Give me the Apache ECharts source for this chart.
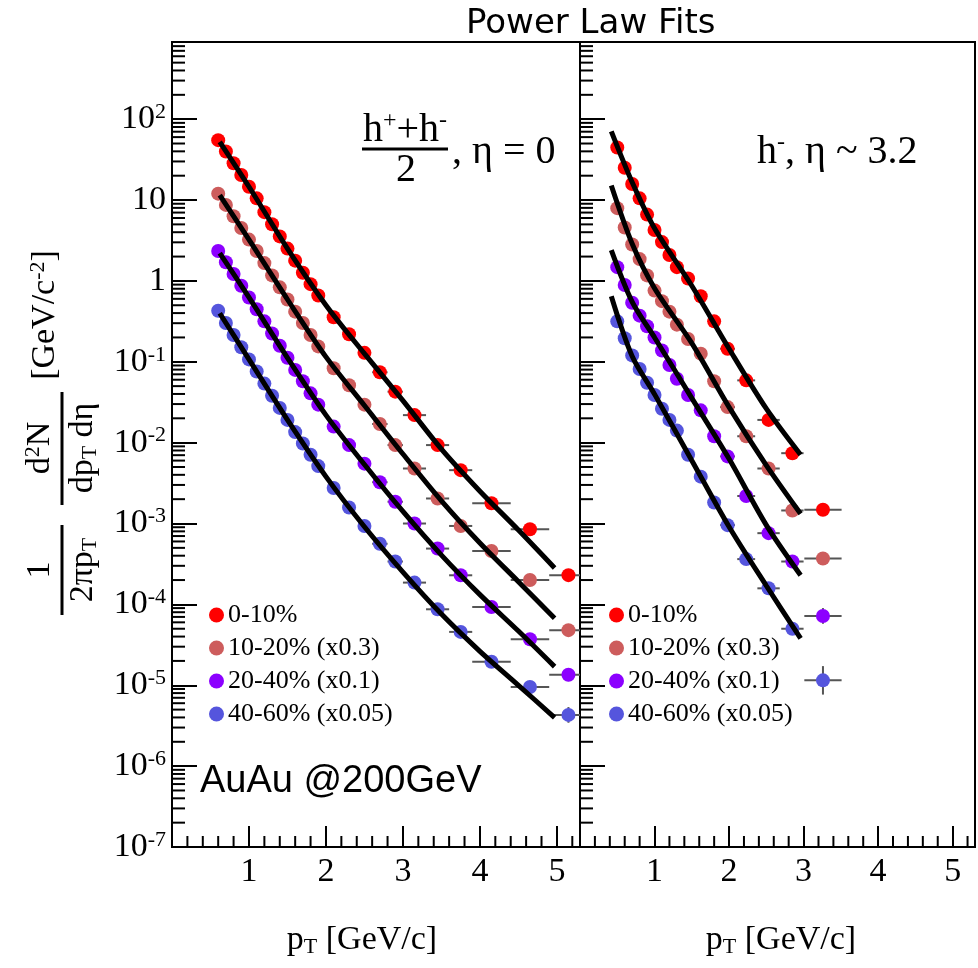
<!DOCTYPE html>
<html>
<head>
<meta charset="utf-8">
<script src="https://cdn.jsdelivr.net/npm/echarts@6/dist/echarts.min.js"></script>
<style>
html,body{margin:0;padding:0;background:#fff;overflow:hidden;}
#chart{width:978px;height:968px;}
</style>
</head>
<body>
<div id="chart"></div>
<script>
// ---------- data ----------
const seriesNames = ['0-10%', '10-20% (x0.3)', '20-40% (x0.1)', '40-60% (x0.05)'];
const seriesColors = ['#ff0000', '#cd5c5c', '#8c00ff', '#5555dd'];

// left panel: (h+ + h-)/2, eta = 0
const ptLeft = [0.6,0.7,0.8,0.9,1.0,1.1,1.2,1.3,1.4,1.5,1.6,1.7,1.8,1.9,2.1,2.3,2.5,2.7,2.9,3.15,3.45,3.75,4.15,4.65,5.15];
const xErrLeft = [0,0,0,0,0,0,0,0,0,0,0,0,0,0,0,0,0.08,0.1,0.1,0.15,0.15,0.15,0.25,0.25,0.25];
const left010 = [55,39.8,28.5,20.4,14.6,10.5,7.08,5.01,3.55,2.51,1.78,1.26,0.912,0.661,0.355,0.219,0.129,0.0741,0.0427,0.0219,0.00933,0.00457,0.00178,8.5e-4,2.3e-4];
const left1020 = [12.0,8.71,6.31,4.52,3.24,2.34,1.66,1.17,0.832,0.589,0.417,0.302,0.214,0.155,0.0832,0.0513,0.0295,0.0170,0.00933,0.00479,0.00204,9.33e-4,4.57e-4,2.0e-4,4.8e-5];
const left2040 = [2.34,1.70,1.22,0.871,0.624,0.447,0.316,0.224,0.158,0.112,0.0794,0.0575,0.0407,0.0295,0.0158,0.00933,0.00550,0.00324,0.00186,0.00100,4.9e-4,2.29e-4,9.3e-5,3.7e-5,1.35e-5];
const left4060 = [0.427,0.302,0.214,0.151,0.107,0.0759,0.0537,0.0380,0.0269,0.0191,0.0135,0.00977,0.00708,0.00513,0.00275,0.00158,9.33e-4,5.62e-4,3.39e-4,1.86e-4,8.7e-5,4.57e-5,1.95e-5,9.5e-6,4.3e-6];
const leftYErrLast = [1.12, 1.15, 1.2, 1.25];

// left panel power-law fit curves
const fitPtLeft = [0.62,1.0,1.5,2.0,2.5,3.0,3.5,4.0,4.5,4.97];
const fitLeft010 = [52.5,14.6,2.51,0.501,0.126,0.0331,0.00832,0.00251,8.3e-4,2.82e-4];
const fitLeft1020 = [11.5,3.24,0.589,0.115,0.0288,0.00724,0.00191,5.75e-4,1.91e-4,6.76e-5];
const fitLeft2040 = [2.21,0.624,0.112,0.0219,0.00537,0.00141,4.07e-4,1.32e-4,4.68e-5,1.70e-5];
const fitLeft4060 = [0.398,0.107,0.0191,0.00380,9.12e-4,2.51e-4,7.59e-5,2.63e-5,1.0e-5,3.98e-6];

// right panel: h-, eta ~ 3.2
const ptRight = [0.5,0.6,0.7,0.8,0.9,1.0,1.1,1.2,1.3,1.45,1.62,1.8,1.98,2.23,2.53,2.85,3.26];
const xErrRight = [0,0,0,0,0,0,0,0,0,0,0,0.05,0.1,0.12,0.15,0.15,0.25];
const right010 = [44.7,25.1,15.8,10.5,6.61,4.27,3.02,2.09,1.48,1.07,0.646,0.316,0.145,0.0589,0.0191,0.00741,0.00148];
const right1020 = [7.94,4.57,2.82,1.86,1.17,0.759,0.562,0.417,0.288,0.191,0.126,0.0575,0.0275,0.0120,0.00479,0.00145,3.7e-4];
const right2040 = [1.48,0.891,0.537,0.372,0.275,0.200,0.138,0.0912,0.0617,0.0389,0.0251,0.0120,0.00676,0.00219,7.6e-4,3.39e-4,7.2e-5];
const right4060 = [0.316,0.195,0.120,0.0813,0.0550,0.0389,0.0263,0.0191,0.0141,0.00708,0.00380,0.00182,9.55e-4,3.63e-4,1.58e-4,5.0e-5,1.15e-5];
const rightYErrLast = [1.15, 1.2, 1.25, 1.5];

const fitPtRight = [0.42,0.7,1.0,1.5,2.0,2.5,2.96];
const fitRight010 = [70.8,16.6,4.47,0.871,0.145,0.0263,0.00708];
const fitRight1020 = [15.1,2.88,0.813,0.170,0.0275,0.00525,0.00132];
const fitRight2040 = [2.40,0.550,0.200,0.0355,0.00631,9.55e-4,2.29e-4];
const fitRight4060 = [0.646,0.117,0.0398,0.00603,9.12e-4,1.70e-4,3.80e-5];

const xTickLabels = ['1','2','3','4','5'];
const yMin = 1e-7, yMax = 900;

// ---------- build ----------
const SERIF = '"Liberation Serif", "Times New Roman", serif';
const panels = [
  {pt: ptLeft, xerr: xErrLeft, vals: [left010,left1020,left2040,left4060], yerrLast: leftYErrLast,
   fitPt: fitPtLeft, fits: [fitLeft010,fitLeft1020,fitLeft2040,fitLeft4060]},
  {pt: ptRight, xerr: xErrRight, vals: [right010,right1020,right2040,right4060], yerrLast: rightYErrLast,
   fitPt: fitPtRight, fits: [fitRight010,fitRight1020,fitRight2040,fitRight4060]}
];

function zip(xs, ys){ return xs.map((x,i)=>[x, ys[i]]); }

const series = [];
panels.forEach((pn, gi) => {
  pn.vals.forEach((vals, si) => {
    // error bars
    series.push({
      type: 'custom', xAxisIndex: gi, yAxisIndex: gi, z: 1, silent: true, clip: true,
      data: vals.map((v,i)=>[pn.pt[i], v, pn.xerr[i], i === vals.length-1 ? pn.yerrLast[si] : 1]),
      renderItem: function(params, api){
        const x = api.value(0), y = api.value(1), xe = api.value(2), yf = api.value(3);
        const ch = [];
        if (xe > 0) {
          const a = api.coord([x - xe, y]), b = api.coord([x + xe, y]);
          ch.push({type:'line', shape:{x1:a[0],y1:a[1],x2:b[0],y2:b[1]}, style:{stroke:'#555',lineWidth:2}});
        }
        if (yf > 1) {
          const a = api.coord([x, y/yf]), b = api.coord([x, y*yf]);
          ch.push({type:'line', shape:{x1:a[0],y1:a[1],x2:b[0],y2:b[1]}, style:{stroke:'#555',lineWidth:2}});
        }
        return {type:'group', children: ch};
      }
    });
    // points
    series.push({
      type: 'scatter', name: seriesNames[si], xAxisIndex: gi, yAxisIndex: gi, z: 2,
      symbol: 'circle', symbolSize: 14, itemStyle: {color: seriesColors[si], opacity: 1},
      data: zip(pn.pt, vals), silent: true
    });
    // fits
    series.push({
      type: 'line', name: 'fit', xAxisIndex: gi, yAxisIndex: gi, z: 3, smooth: 0.3,
      showSymbol: false, symbol: 'none', silent: true,
      lineStyle: {color: '#000', width: 5},
      data: zip(pn.fitPt, pn.fits[si])
    });
  });
  // minor ticks (axis decoration)
  const tickData = [];
  for (let e = -7; e <= 2; e++) for (let k = 2; k <= 9; k++) {
    const v = k * Math.pow(10, e);
    if (v < yMax) tickData.push([0, v, 0]);
  }
  for (let i = 1; i <= 26; i++) { if (i % 5 !== 0) tickData.push([i*0.2, yMin, 1]); }
  series.push({
    type: 'custom', xAxisIndex: gi, yAxisIndex: gi, z: 4, silent: true, clip: false,
    data: tickData,
    renderItem: function(params, api){
      const p = api.coord([api.value(0), api.value(1)]);
      if (api.value(2) === 0) {
        return {type:'line', shape:{x1:p[0], y1:p[1], x2:p[0]+13, y2:p[1]}, style:{stroke:'#000', lineWidth:2}};
      }
      return {type:'line', shape:{x1:p[0], y1:p[1], x2:p[0], y2:p[1]-11}, style:{stroke:'#000', lineWidth:2}};
    }
  });
});

function xAxisDef(gi){
  return {
    type: 'value', gridIndex: gi, min: 0, max: 5.3, interval: 1,
    axisLine: {show: true, onZero: false, lineStyle: {color:'#000', width: 2}},
    axisTick: {show: true, inside: true, length: 21, lineStyle: {color:'#000', width: 2}},
    splitLine: {show: false},
    axisLabel: {
      show: true, margin: 8, color: '#000', fontFamily: SERIF, fontSize: 34,
      formatter: function(v){ const i = Math.round(v); return (Math.abs(v-i) < 1e-9 && i >= 1 && i <= xTickLabels.length) ? xTickLabels[i-1] : ''; }
    }
  };
}
function yAxisDef(gi){
  return {
    type: 'log', logBase: 10, gridIndex: gi, min: yMin, max: yMax, splitNumber: 10,
    axisLine: {show: true, lineStyle: {color:'#000', width: 2}},
    axisTick: {show: true, inside: true, length: 25, lineStyle: {color:'#000', width: 2}},
    splitLine: {show: false},
    axisLabel: {
      show: gi === 0, margin: 6, color: '#000',
      formatter: function(v){
        const l = Math.log10(v), e = Math.round(l);
        if (Math.abs(l - e) > 1e-6) return '';
        if (e === 0) return '{b|1}';
        if (e === 1) return '{b|10}';
        return '{b|10}{s|' + e + '}';
      },
      rich: {
        b: {fontFamily: SERIF, fontSize: 34, lineHeight: 36, color: '#000'},
        s: {fontFamily: SERIF, fontSize: 22, lineHeight: 16, verticalAlign: 'top', color: '#000'}
      }
    }
  };
}

function legendDef(left){
  return {
    left: left, top: 597, orient: 'vertical', itemGap: 7, itemWidth: 15, itemHeight: 15,
    icon: 'circle', selectedMode: false, data: seriesNames,
    textStyle: {fontFamily: SERIF, fontSize: 26, color: '#000', padding: [0,0,0,-1]}
  };
}

const richLab = {
  a: {fontFamily: SERIF, fontSize: 34, lineHeight: 36, fill: '#000'},
  s: {fontFamily: SERIF, fontSize: 22, lineHeight: 14, verticalAlign: 'bottom', fill: '#000'},
  p: {fontFamily: SERIF, fontSize: 22, lineHeight: 14, verticalAlign: 'top', fill: '#000'},
  h: {fontFamily: SERIF, fontSize: 40, lineHeight: 42, fill: '#000'},
  q: {fontFamily: SERIF, fontSize: 24, lineHeight: 16, verticalAlign: 'top', fill: '#000'}
};

const option = {
  animation: false,
  backgroundColor: '#fff',
  title: {
    text: 'Power Law Fits', left: 461, top: 2,
    textStyle: {fontFamily: '"DejaVu Sans"', fontSize: 34, fontWeight: 'normal', color: '#000'}
  },
  grid: [
    {left: 172, top: 42, width: 408, height: 805, show: true, borderColor: '#000', borderWidth: 2, backgroundColor: 'transparent'},
    {left: 580, top: 42, width: 408, height: 805, show: true, borderColor: '#000', borderWidth: 2, backgroundColor: 'transparent'}
  ],
  xAxis: [xAxisDef(0), xAxisDef(1)],
  yAxis: [yAxisDef(0), yAxisDef(1)],
  legend: [legendDef(204), legendDef(604)],
  series: series,
  graphic: [
    // x axis titles
    {type: 'text', x: 362, y: 940, style: {text: '{a|p}{s|T}{a| [GeV/c]}', rich: richLab, align: 'center', verticalAlign: 'middle'}},
    {type: 'text', x: 781, y: 940, style: {text: '{a|p}{s|T}{a| [GeV/c]}', rich: richLab, align: 'center', verticalAlign: 'middle'}},
    // y axis title
    {type: 'group', x: 62, y: 440, rotation: Math.PI/2, children: [
      {type: 'text', x: -130, y: -22, style: {text: '{a|1}', rich: richLab, align: 'center', verticalAlign: 'middle'}},
      {type: 'line', shape: {x1: -175, y1: 0, x2: -85, y2: 0}, style: {stroke: '#000', lineWidth: 3}},
      {type: 'text', x: -130, y: 21, style: {text: '{a|2πp}{s|T}', rich: richLab, align: 'center', verticalAlign: 'middle'}},
      {type: 'text', x: -8, y: -22, style: {text: '{a|d}{p|2}{a|N}', rich: richLab, align: 'center', verticalAlign: 'middle'}},
      {type: 'line', shape: {x1: -65, y1: 0, x2: 48, y2: 0}, style: {stroke: '#000', lineWidth: 3}},
      {type: 'text', x: -8, y: 21, style: {text: '{a|dp}{s|T}{a| dη}', rich: richLab, align: 'center', verticalAlign: 'middle'}},
      {type: 'text', x: 125, y: -17, style: {text: '{a|[GeV/c}{p|-2}{a|]}', rich: richLab, align: 'center', verticalAlign: 'middle'}}
    ]},
    // left annotation
    {type: 'text', x: 405, y: 130, style: {text: '{h|h}{q|+}{h|+h}{q|-}', rich: richLab, align: 'center', verticalAlign: 'middle'}},
    {type: 'line', shape: {x1: 362, y1: 149, x2: 448, y2: 149}, style: {stroke: '#000', lineWidth: 3}},
    {type: 'text', x: 406, y: 170, style: {text: '{h|2}', rich: richLab, align: 'center', verticalAlign: 'middle'}},
    {type: 'text', x: 452, y: 152, style: {text: '{h|, η = 0}', rich: richLab, align: 'left', verticalAlign: 'middle'}},
    // right annotation
    {type: 'text', x: 757, y: 152, style: {text: '{h|h}{q|-}{h|, η ~ 3.2}', rich: richLab, align: 'left', verticalAlign: 'middle'}},
    // collision system
    {type: 'text', x: 200, y: 782, style: {text: 'AuAu @200GeV', fontFamily: '"Liberation Sans", Arial, sans-serif', fontSize: 38, fill: '#000', align: 'left', verticalAlign: 'middle'}}
  ]
};

const chart = echarts.init(document.getElementById('chart'), null, {renderer: 'canvas'});
chart.setOption(option);
</script>
</body>
</html>
